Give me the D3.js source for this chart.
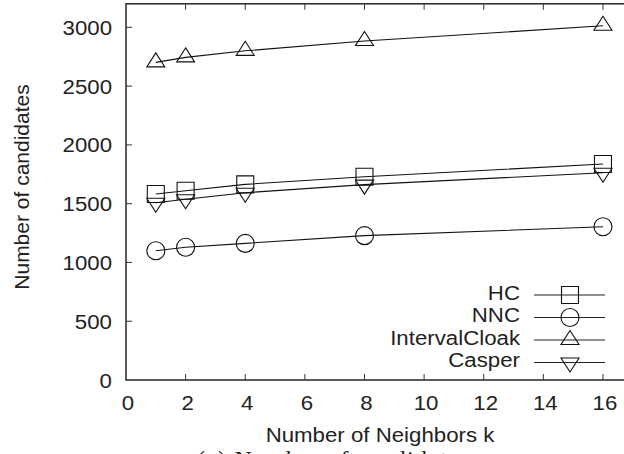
<!DOCTYPE html>
<html>
<head>
<meta charset="utf-8">
<script src="https://cdn.jsdelivr.net/npm/d3@7"></script>
<style>
  body { margin: 0; background: #fff; }
  text { font-family: "Liberation Sans", Arial, sans-serif; fill: #222; }
</style>
</head>
<body>
<div id="chart"></div>
<script>
var kValues = [1, 2, 4, 8, 16];
var seriesNames = ["HC", "NNC", "IntervalCloak", "Casper"];
var hcValues = [1582, 1610, 1664, 1729, 1837];
var nncValues = [1100, 1129, 1162, 1228, 1304];
var intervalValues = [2702, 2744, 2800, 2883, 3013];
var casperValues = [1508, 1537, 1593, 1662, 1763];
var xTicks = [0, 2, 4, 6, 8, 10, 12, 14, 16];
var yTicks = [0, 500, 1000, 1500, 2000, 2500, 3000];

var width = 624,
    height = 454;

var svg = d3.select("#chart")
  .append("svg")
    .attr("width", width)
    .attr("height", height);

var x = d3.scaleLinear().domain([0, 18]).range([126, 662.6]);
var y = d3.scaleLinear().domain([0, 3200]).range([380, 3.8]);

var series = [
  {name: seriesNames[0], values: hcValues, shape: "square"},
  {name: seriesNames[1], values: nncValues, shape: "circle"},
  {name: seriesNames[2], values: intervalValues, shape: "up"},
  {name: seriesNames[3], values: casperValues, shape: "down"}
];

// marker paths, centred on 0,0
function markerPath(shape) {
  if (shape == "square") return "M-8.5,-8.5H8.5V8.5H-8.5Z";
  if (shape == "circle") return "M9,0A9,9 0 1,1 -9,0A9,9 0 1,1 9,0Z";
  if (shape == "up") return "M0,-9.5L9,4.5L-9,4.5Z";
  return "M0,9.5L9,-4.5L-9,-4.5Z";
}

// the original text is a little wider than it is tall
var stretch = 1.06;
function place(px, py) {
  return "translate(" + px + "," + py + ") scale(" + stretch + ",1)";
}

var axisColor = "#333";

// ticks (inward, mirrored)
var tickLen = 6;
svg.append("g").selectAll("line.xb")
  .data(xTicks.slice(1))
  .enter().append("line")
    .attr("x1", function(d){ return x(d); })
    .attr("x2", function(d){ return x(d); })
    .attr("y1", y.range()[0])
    .attr("y2", y.range()[0] - tickLen)
    .attr("stroke", axisColor).attr("stroke-width", 1);
svg.append("g").selectAll("line.xt")
  .data(xTicks.slice(1))
  .enter().append("line")
    .attr("x1", function(d){ return x(d); })
    .attr("x2", function(d){ return x(d); })
    .attr("y1", y.range()[1])
    .attr("y2", y.range()[1] + tickLen)
    .attr("stroke", axisColor).attr("stroke-width", 1);
svg.append("g").selectAll("line.yl")
  .data(yTicks.slice(1))
  .enter().append("line")
    .attr("x1", x.range()[0])
    .attr("x2", x.range()[0] + tickLen)
    .attr("y1", function(d){ return y(d); })
    .attr("y2", function(d){ return y(d); })
    .attr("stroke", axisColor).attr("stroke-width", 1);

// frame
svg.append("rect")
  .attr("x", x.range()[0])
  .attr("y", y.range()[1])
  .attr("width", x.range()[1] - x.range()[0])
  .attr("height", y.range()[0] - y.range()[1])
  .attr("fill", "none")
  .attr("stroke", axisColor)
  .attr("stroke-width", 1.6);

// tick labels
svg.append("g").selectAll("text")
  .data(xTicks)
  .enter().append("text")
    .attr("transform", function(d){ return place(x(d) + 2, 410); })
    .attr("text-anchor", "middle")
    .style("font-size", "21px")
    .text(function(d){ return d; });
svg.append("g").selectAll("text")
  .data(yTicks)
  .enter().append("text")
    .attr("transform", function(d){ return place(112, y(d) + 7.5); })
    .attr("text-anchor", "end")
    .style("font-size", "21px")
    .text(function(d){ return d; });

// axis titles
svg.append("text")
  .attr("transform", place(380, 442))
  .attr("text-anchor", "middle")
  .style("font-size", "21px")
  .text("Number of Neighbors k");
svg.append("text")
  .attr("transform", "translate(29,187) rotate(-90)")
  .attr("text-anchor", "middle")
  .style("font-size", "21px")
  .text("Number of candidates");
// caption, mostly below the picture edge as in the original
svg.append("text")
  .attr("x", 333).attr("y", 467)
  .attr("text-anchor", "middle")
  .attr("textLength", 272)
  .style("font-family", "'Liberation Serif', 'DejaVu Serif', serif")
  .style("font-size", "24px")
  .text("(a) Number of candidates");

// lines
var line = d3.line()
  .x(function(d, i){ return x(kValues[i]); })
  .y(function(d){ return y(d); });

svg.append("g").selectAll("path")
  .data(series)
  .enter().append("path")
    .attr("d", function(s){ return line(s.values); })
    .attr("fill", "none")
    .attr("stroke", "#111")
    .attr("stroke-width", 1.1);

// markers
series.forEach(function(s) {
  svg.append("g").selectAll("path")
    .data(s.values)
    .enter().append("path")
      .attr("transform", function(d, i){ return "translate(" + x(kValues[i]) + "," + y(d) + ")"; })
      .attr("d", markerPath(s.shape))
      .attr("fill", "none")
      .attr("stroke", "#111")
      .attr("stroke-width", 1.1);
});

// legend
var legend = svg.append("g").selectAll("g")
  .data(series)
  .enter().append("g")
    .attr("transform", function(d, i){ return "translate(0," + (295 + i * 22.5) + ")"; });
legend.append("text")
  .attr("transform", place(520, 4.5))
  .attr("text-anchor", "end")
  .style("font-size", "21px")
  .text(function(d){ return d.name; });
legend.append("line")
  .attr("x1", 534).attr("x2", 605)
  .attr("stroke", "#222").attr("stroke-width", 1.1);
legend.append("path")
  .attr("transform", "translate(570,0)")
  .attr("d", function(d){ return markerPath(d.shape); })
  .attr("fill", "none")
  .attr("stroke", "#111")
  .attr("stroke-width", 1.1);
</script>
</body>
</html>
